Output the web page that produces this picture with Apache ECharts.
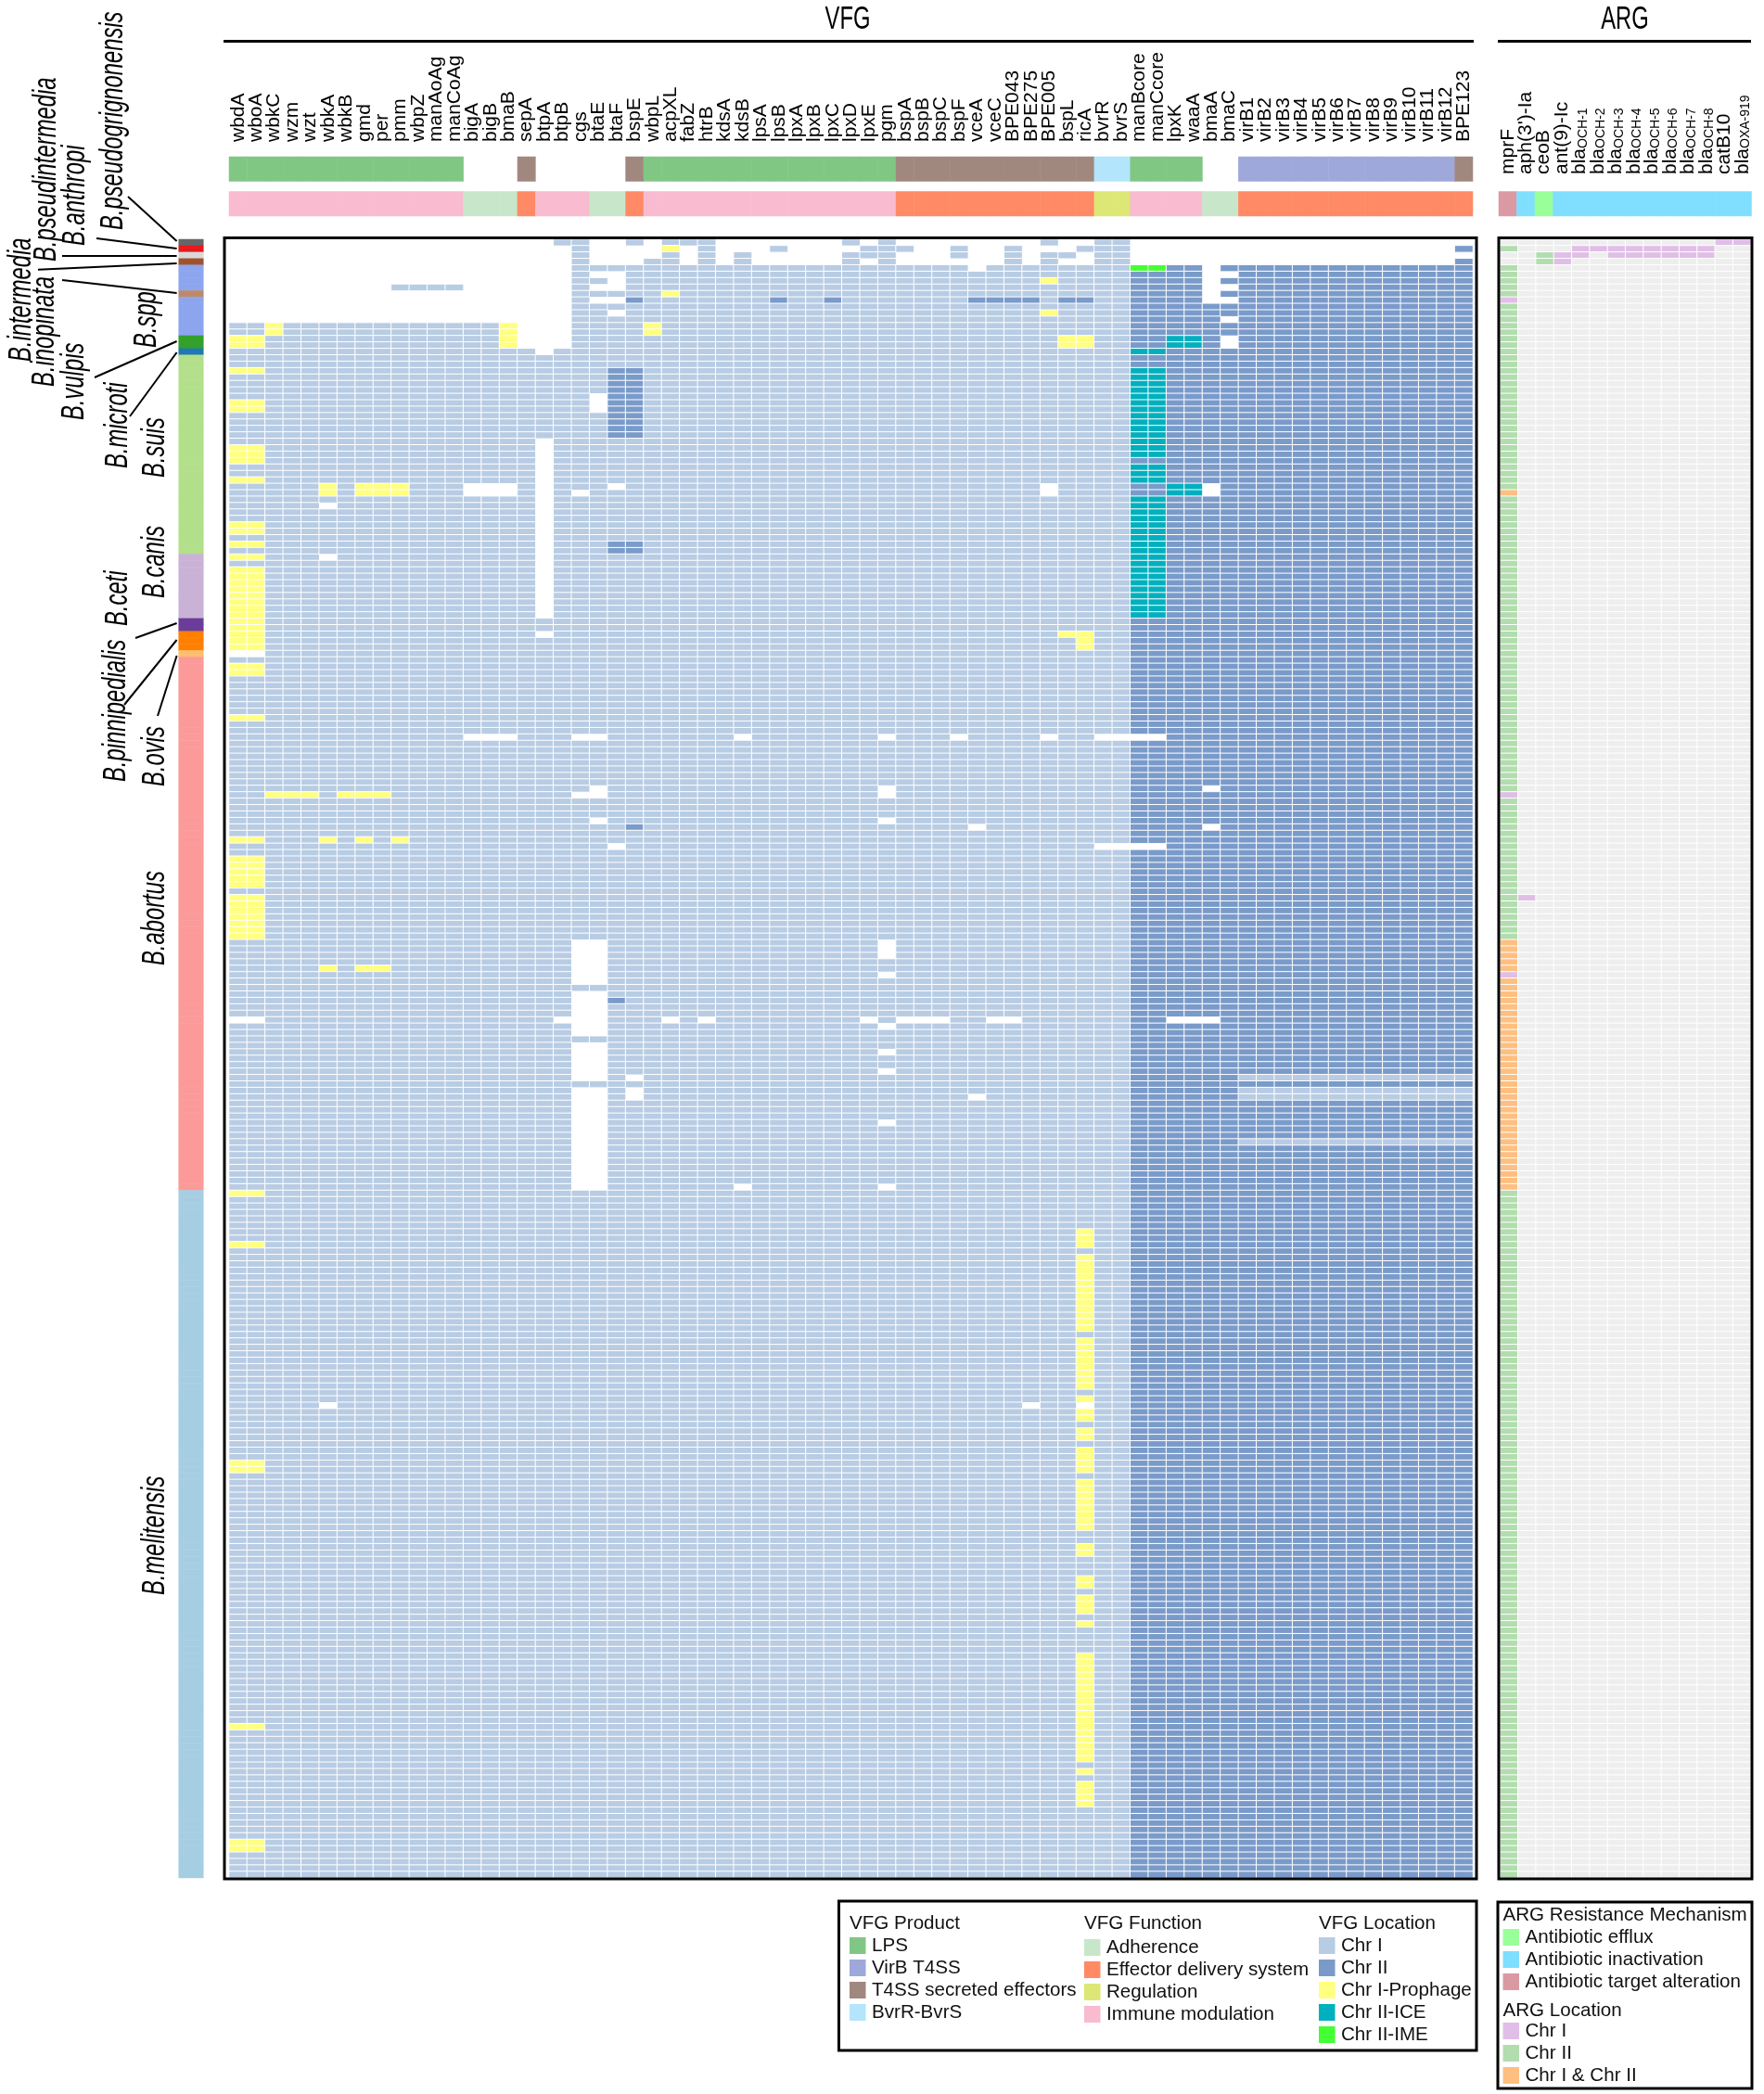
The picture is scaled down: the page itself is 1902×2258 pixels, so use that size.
<!DOCTYPE html>
<html><head><meta charset="utf-8">
<style>html,body{margin:0;padding:0;background:#fff}#c{width:1902px;height:2258px}</style>
<script src="https://cdn.jsdelivr.net/npm/echarts@6/dist/echarts.min.js"></script>
</head><body><div id="c"></div>
<script>
const vfgGenes=['wbdA','wboA','wbkC','wzm','wzt','wbkA','wbkB','gmd','per','pmm','wbpZ','manAoAg','manCoAg','bigA','bigB','bmaB','sepA','btpA','btpB','cgs','btaE','btaF','bspE','wbpL','acpXL','fabZ','htrB','kdsA','kdsB','lpsA','lpsB','lpxA','lpxB','lpxC','lpxD','lpxE','pgm','bspA','bspB','bspC','bspF','vceA','vceC','BPE043','BPE275','BPE005','bspL','ricA','bvrR','bvrS','manBcore','manCcore','lpxK','waaA','bmaA','bmaC','virB1','virB2','virB3','virB4','virB5','virB6','virB7','virB8','virB9','virB10','virB11','virB12','BPE123'];
const argGenes=['mprF',"aph(3')-Ia",'ceoB','ant(9)-Ic','bla_OCH-1','bla_OCH-2','bla_OCH-3','bla_OCH-4','bla_OCH-5','bla_OCH-6','bla_OCH-7','bla_OCH-8','catB10','bla_OXA-919'];
const rowCount=255;

// legend entries
const productNames=['LPS','VirB T4SS','T4SS secreted effectors','BvrR-BvrS'];
const productColors=['#81C784','#9FA8DA','#A1887F','#B3E5FC'];
const functionNames=['Adherence','Effector delivery system','Regulation','Immune modulation'];
const functionColors=['#C8E6C9','#FF8A65','#DCE775','#F8BBD0'];
const locationNames=['Chr I','Chr II','Chr I-Prophage','Chr II-ICE','Chr II-IME'];
const locationColors=['#B8CCE4','#7A9BCA','#FFFF80','#00B0BE','#44FF33'];
const mechanismNames=['Antibiotic efflux','Antibiotic inactivation','Antibiotic target alteration'];
const mechanismColors=['#99FF99','#80DEFF','#DB99A4'];
const argLocationNames=['Chr I','Chr II','Chr I & Chr II'];
const argLocationColors=['#E1BEE7','#B2DDAE','#FFBF80'];
const argAbsentColor='#EEEEEE';

// annotation strips: [first column, last column, entry index]
const productRuns=[[0,12,0],[16,16,2],[22,22,2],[23,36,0],[37,47,2],[48,49,3],[50,53,0],[56,67,1],[68,68,2]];
const functionRuns=[[0,12,3],[13,15,0],[16,16,1],[17,19,3],[20,21,0],[22,22,1],[23,36,3],[37,47,1],[48,49,2],[50,53,3],[54,55,0],[56,68,1]];
const mechanismRuns=[[0,0,2],[1,1,1],[2,2,0],[3,13,1]];

// species strip: [first row, last row, colour]
const speciesRuns=[[0,0,'#666666'],[1,1,'#E41A1C'],[2,2,'#D9D9D9'],[3,3,'#A0522D'],[4,7,'#8DA5EE'],[8,8,'#BC8A6A'],[9,14,'#8DA5EE'],[15,16,'#33A02C'],[17,17,'#1F78B4'],[18,48,'#B2DF8A'],[49,58,'#CAB2D6'],[59,60,'#6A3D9A'],[61,63,'#FF7F00'],[64,64,'#FDBF6F'],[65,147,'#FB9A99'],[148,254,'#A6CEE3']];

// VFG matrix patches on the default (Chr I for columns <50, Chr II beyond): [col0,col1,row0,row1]
const vfgAbsent=[[0,15,0,12],[16,16,0,16],[17,17,0,17],[17,17,31,58],[17,17,61,61],[18,18,1,16],
[0,1,64,64],[0,1,121,121],[5,5,41,41],[5,5,49,49],[5,5,181,181],[13,15,38,39],[13,15,77,77],[18,18,121,121],
[19,19,39,39],[19,20,77,77],[19,20,86,86],[20,20,85,85],[20,20,90,90],[19,20,109,115],[19,20,117,123],[19,20,125,130],[19,20,132,147],
[20,21,0,3],[20,21,5,5],[20,21,7,7],[20,21,9,9],[20,20,24,26],[21,21,6,6],[21,21,11,11],[21,21,38,38],[21,21,94,94],
[22,22,1,3],[22,22,130,130],[22,22,132,133],[23,23,0,2],[24,24,121,121],[25,25,1,3],[26,26,121,121],[27,27,0,3],[28,28,0,1],[28,28,77,77],[28,28,147,147],
[29,29,0,3],[30,30,0,0],[30,30,2,3],[31,33,0,3],[34,34,1,1],[35,35,0,0],[35,35,3,3],[35,35,121,121],
[36,36,77,77],[36,36,85,86],[36,36,90,90],[36,36,109,111],[36,36,114,114],[36,36,122,122],[36,36,126,126],[36,36,129,129],[36,36,137,137],[36,36,147,147],
[37,37,0,0],[37,37,2,3],[37,39,121,121],[38,39,0,3],[40,40,0,0],[40,40,3,3],[40,40,77,77],[41,41,0,4],[41,41,91,91],[41,41,133,133],[42,42,0,3],[42,43,121,121],[43,43,0,0],
[44,44,0,3],[44,44,181,181],[45,45,1,1],[45,45,38,39],[45,45,77,77],[46,46,0,1],[46,46,3,3],[47,47,0,0],[47,47,2,3],[48,51,77,77],[48,51,94,94],
[47,47,181,181],[50,53,0,3],[52,54,121,121],[54,54,0,9],[54,54,38,39],[54,54,85,85],[54,54,91,91],
[55,55,0,3],[55,55,5,5],[55,55,7,7],[55,55,9,9],[55,55,12,12],[55,55,15,16],[56,67,0,3],[68,68,0,0],[68,68,2,2]];
const vfgChr1=[[9,12,7,7],[56,68,130,130],[56,68,132,133],[56,68,140,140]];
const vfgChr2=[[21,22,20,30],[21,22,47,48],[22,22,9,9],[30,30,9,9],[33,33,9,9],[41,44,9,9],[46,47,9,9],[22,22,91,91],[21,21,118,118]];
const vfgProphage=[[0,1,15,16],[0,1,20,20],[0,1,25,26],[0,1,32,34],[0,1,37,37],[0,1,44,45],[0,1,47,47],[0,1,49,49],[0,1,51,63],[0,1,66,67],[0,1,74,74],[0,1,93,93],[0,1,96,100],[0,1,102,108],[0,1,148,148],[0,1,156,156],[0,1,190,191],[0,1,231,231],[0,1,249,250],
[2,2,13,14],[15,15,13,16],[5,5,38,39],[7,9,38,39],[23,23,13,14],[24,24,1,1],[24,24,8,8],[45,45,6,6],[45,45,11,11],[46,47,15,16],[46,47,61,61],[47,47,62,63],
[2,4,86,86],[6,8,86,86],[5,5,93,93],[7,7,93,93],[9,9,93,93],[5,5,113,113],[7,8,113,113],
[47,47,154,156],[47,47,158,169],[47,47,171,178],[47,47,180,180],[47,47,182,183],[47,47,185,186],[47,47,188,191],[47,47,193,200],[47,47,203,204],[47,47,208,209],[47,47,211,213],[47,47,215,215],[47,47,220,236],[47,47,238,238],[47,47,240,243]];
const vfgIce=[[50,51,17,17],[50,51,20,33],[50,51,35,37],[50,51,40,58],[52,53,15,16],[52,53,38,39]];
const vfgIme=[[50,51,4,4]];

// ARG matrix patches on the default (absent): [col0,col1,row0,row1]
const argChr2=[[0,0,1,1],[0,0,4,8],[0,0,10,38],[0,0,40,85],[0,0,87,108],[0,0,148,254],[2,2,2,3]];
const argChr1=[[0,0,9,9],[0,0,86,86],[0,0,114,114],[1,1,102,102],[3,3,2,3],[4,11,1,1],[4,4,2,2],[6,11,2,2],[12,13,0,0]];
const argBoth=[[0,0,39,39],[0,0,109,113],[0,0,115,147]];

// species labels: name, x centre, y of the text start
const speciesLabels=[['B.pseudogrignonensis',122,248],['B.pseudintermedia',50,282],['B.anthropi',81,265],['B.intermedia',23,390],['B.inopinata',48,417],['B.spp',158,375],['B.vulpis',80,453],['B.microti',127,505],['B.suis',167,515],['B.canis',167,645],['B.ceti',127,675],['B.pinnipedialis',125,843],['B.ovis',167,848],['B.abortus',167,1041],['B.melitensis',167,1720]];
const leaderLines=[[138,212,190.6,260],[104,257,190.6,268],[67,276,190.6,276],[41,290.7,190.6,284],[67,302,190.6,316],[102,407,190.6,368],[140,449,190.6,380],[146,688,190.6,672],[134,760,190.6,690],[170,772,190.6,707]];

// ---- build
const FONT='"Liberation Sans",Arial,sans-serif';
const palette=[];const pieces=[];
function reg(c){let i=palette.indexOf(c);if(i<0){palette.push(c);i=palette.length-1;pieces.push({value:i,color:c});}return i;}
const rowCats=Array.from({length:rowCount},(_,i)=>String(i));
function matrix(cols,def){const m=[];for(let r=0;r<rowCount;r++){m.push([]);for(let c=0;c<cols;c++)m[r].push(def(c));}return m;}
function apply(m,list,v){list.forEach(p=>{for(let r=p[2];r<=p[3];r++)for(let c=p[0];c<=p[1];c++)m[r][c]=v;});}
function toData(m){const d=[];m.forEach((row,r)=>row.forEach((v,c)=>{if(v!==null)d.push([c,r,v]);}));return d;}
const L=locationColors.map(reg),AL=argLocationColors.map(reg),NONE=reg(argAbsentColor);
const vm=matrix(vfgGenes.length,c=>c<50?L[0]:L[1]);
apply(vm,vfgAbsent,null);apply(vm,vfgChr1,L[0]);apply(vm,vfgChr2,L[1]);apply(vm,vfgProphage,L[2]);apply(vm,vfgIce,L[3]);apply(vm,vfgIme,L[4]);
const am=matrix(argGenes.length,()=>NONE);
apply(am,argChr1,AL[0]);apply(am,argChr2,AL[1]);apply(am,argBoth,AL[2]);
function stripData(runs,colors){const d=[];runs.forEach(r=>{for(let c=r[0];c<=r[1];c++)d.push([c,0,reg(colors[r[2]])]);});return d;}
const speciesData=[];speciesRuns.forEach(r=>{for(let i=r[0];i<=r[1];i++)speciesData.push([0,i,reg(r[2])]);});

const grids=[
 {left:247,top:258,width:1341,height:1767},
 {left:1617.5,top:258,width:270.5,height:1767},
 {left:247,top:169,width:1341,height:26.5},
 {left:247,top:206.5,width:1341,height:26.5},
 {left:1616,top:206.5,width:272.5,height:26.5},
 {left:192.7,top:258,width:26.6,height:1767}];
const hiddenAxis=(grid,data,inv)=>({type:'category',gridIndex:grid,data,show:false,inverse:!!inv});
const one=['0'];
const xAxes=[hiddenAxis(0,vfgGenes),hiddenAxis(1,argGenes),hiddenAxis(2,vfgGenes),hiddenAxis(3,vfgGenes),hiddenAxis(4,argGenes),hiddenAxis(5,one)];
const yAxes=[hiddenAxis(0,rowCats,true),hiddenAxis(1,rowCats,true),hiddenAxis(2,one),hiddenAxis(3,one),hiddenAxis(4,one),hiddenAxis(5,rowCats,true)];
function hm(name,i,data,border){return {type:'heatmap',name,xAxisIndex:i,yAxisIndex:i,data,progressive:0,silent:true,animation:false,
 emphasis:{disabled:true},itemStyle:border?{borderColor:'#fff',borderWidth:1}:{borderWidth:0}};}
const series=[hm('VFG',0,toData(vm),true),hm('ARG',1,toData(am),true),
 hm('VFG Product',2,stripData(productRuns,productColors)),hm('VFG Function',3,stripData(functionRuns,functionColors)),
 hm('ARG Resistance Mechanism',4,stripData(mechanismRuns,mechanismColors)),hm('Species',5,speciesData)];

const g=[];
const frame=(x0,y0,x1,y1)=>g.push({type:'rect',shape:{x:x0,y:y0,width:x1-x0,height:y1-y0},style:{fill:'transparent',stroke:'#000',lineWidth:3},silent:true,z:20});
const line=(x1,y1,x2,y2,w)=>g.push({type:'line',shape:{x1,y1,x2,y2},style:{stroke:'#000',lineWidth:w},silent:true,z:20});
frame(242,256.5,1592,2026);frame(1616,256.5,1889,2026);
line(241,44.5,1589,44.5,3);line(1615,44.5,1888,44.5,3);
const condensed=(text,x,y,size,opt)=>g.push(Object.assign({type:'text',x,y,scaleX:opt.sx||0.68,silent:true,z:20,style:{text,fill:'#000',fontFamily:FONT,fontSize:size,fontStyle:opt.italic?'italic':'normal',align:opt.align||'left',verticalAlign:'middle'}},opt.rot?{rotation:Math.PI/2}:{}));
condensed('VFG',914,21.5,35,{align:'center'});condensed('ARG',1752,21.5,35,{align:'center'});
speciesLabels.forEach(s=>condensed(s[0],s[1],s[2],35,{italic:true,rot:true}));
leaderLines.forEach(l=>line(l[0],l[1],l[2],l[3],2));
const txt=(text,x,y)=>g.push({type:'text',x,y,silent:true,z:20,style:{text,fill:'#111',fontFamily:FONT,fontSize:20.6,align:'left',verticalAlign:'middle'}});
const swatch=(x,y,c)=>g.push({type:'rect',shape:{x,y:y-9,width:17.5,height:18},style:{fill:c},silent:true,z:20});
function legendCol(title,names,colors,x,titleY,rowYs){txt(title,x,titleY);names.forEach((n,i)=>{swatch(x,rowYs[i],colors[i]);txt(n,x+24,rowYs[i]);});}
frame(904.5,2050,1592,2211);frame(1615,2051,1889,2252);
legendCol('VFG Product',productNames,productColors,916,2074.5,[2098,2122,2146,2170]);
legendCol('VFG Function',functionNames,functionColors,1169,2074.5,[2100,2124,2148,2172]);
legendCol('VFG Location',locationNames,locationColors,1422,2074.5,[2098,2122,2146,2170,2194]);
legendCol('ARG Resistance Mechanism',mechanismNames,mechanismColors,1620.5,2065,[2089,2113,2137]);
legendCol('ARG Location',argLocationNames,argLocationColors,1620.5,2168,[2190,2214,2238]);

const chart=echarts.init(document.getElementById('c'),null,{renderer:'canvas',width:1902,height:2258});
chart.setOption({animation:false,backgroundColor:'#fff',grid:grids,xAxis:xAxes,yAxis:yAxes,
 visualMap:{type:'piecewise',show:false,dimension:2,seriesIndex:series.map((_,i)=>i),pieces:pieces,outOfRange:{color:'#fff'}},
 series});
// gene labels sit over their columns, placed through the axes' own scale
function geneLabels(names,gridIndex,bottomY){names.forEach((n,i)=>{
 const x=chart.convertToPixel({gridIndex},[i,0])[0];
 const p=n.split('_');
 g.push({type:'text',x,y:bottomY,rotation:Math.PI/2,silent:true,z:20,style:{text:p.length>1?p[0]+'{s|'+p[1]+'}':n,fill:'#000',fontFamily:FONT,fontSize:21,align:'left',verticalAlign:'middle',
  rich:{s:{fontFamily:FONT,fontSize:14,fill:'#000',verticalAlign:'bottom'}}}});});}
geneLabels(vfgGenes,2,153);geneLabels(argGenes,4,188);
chart.setOption({graphic:{elements:g}});
</script></body></html>
